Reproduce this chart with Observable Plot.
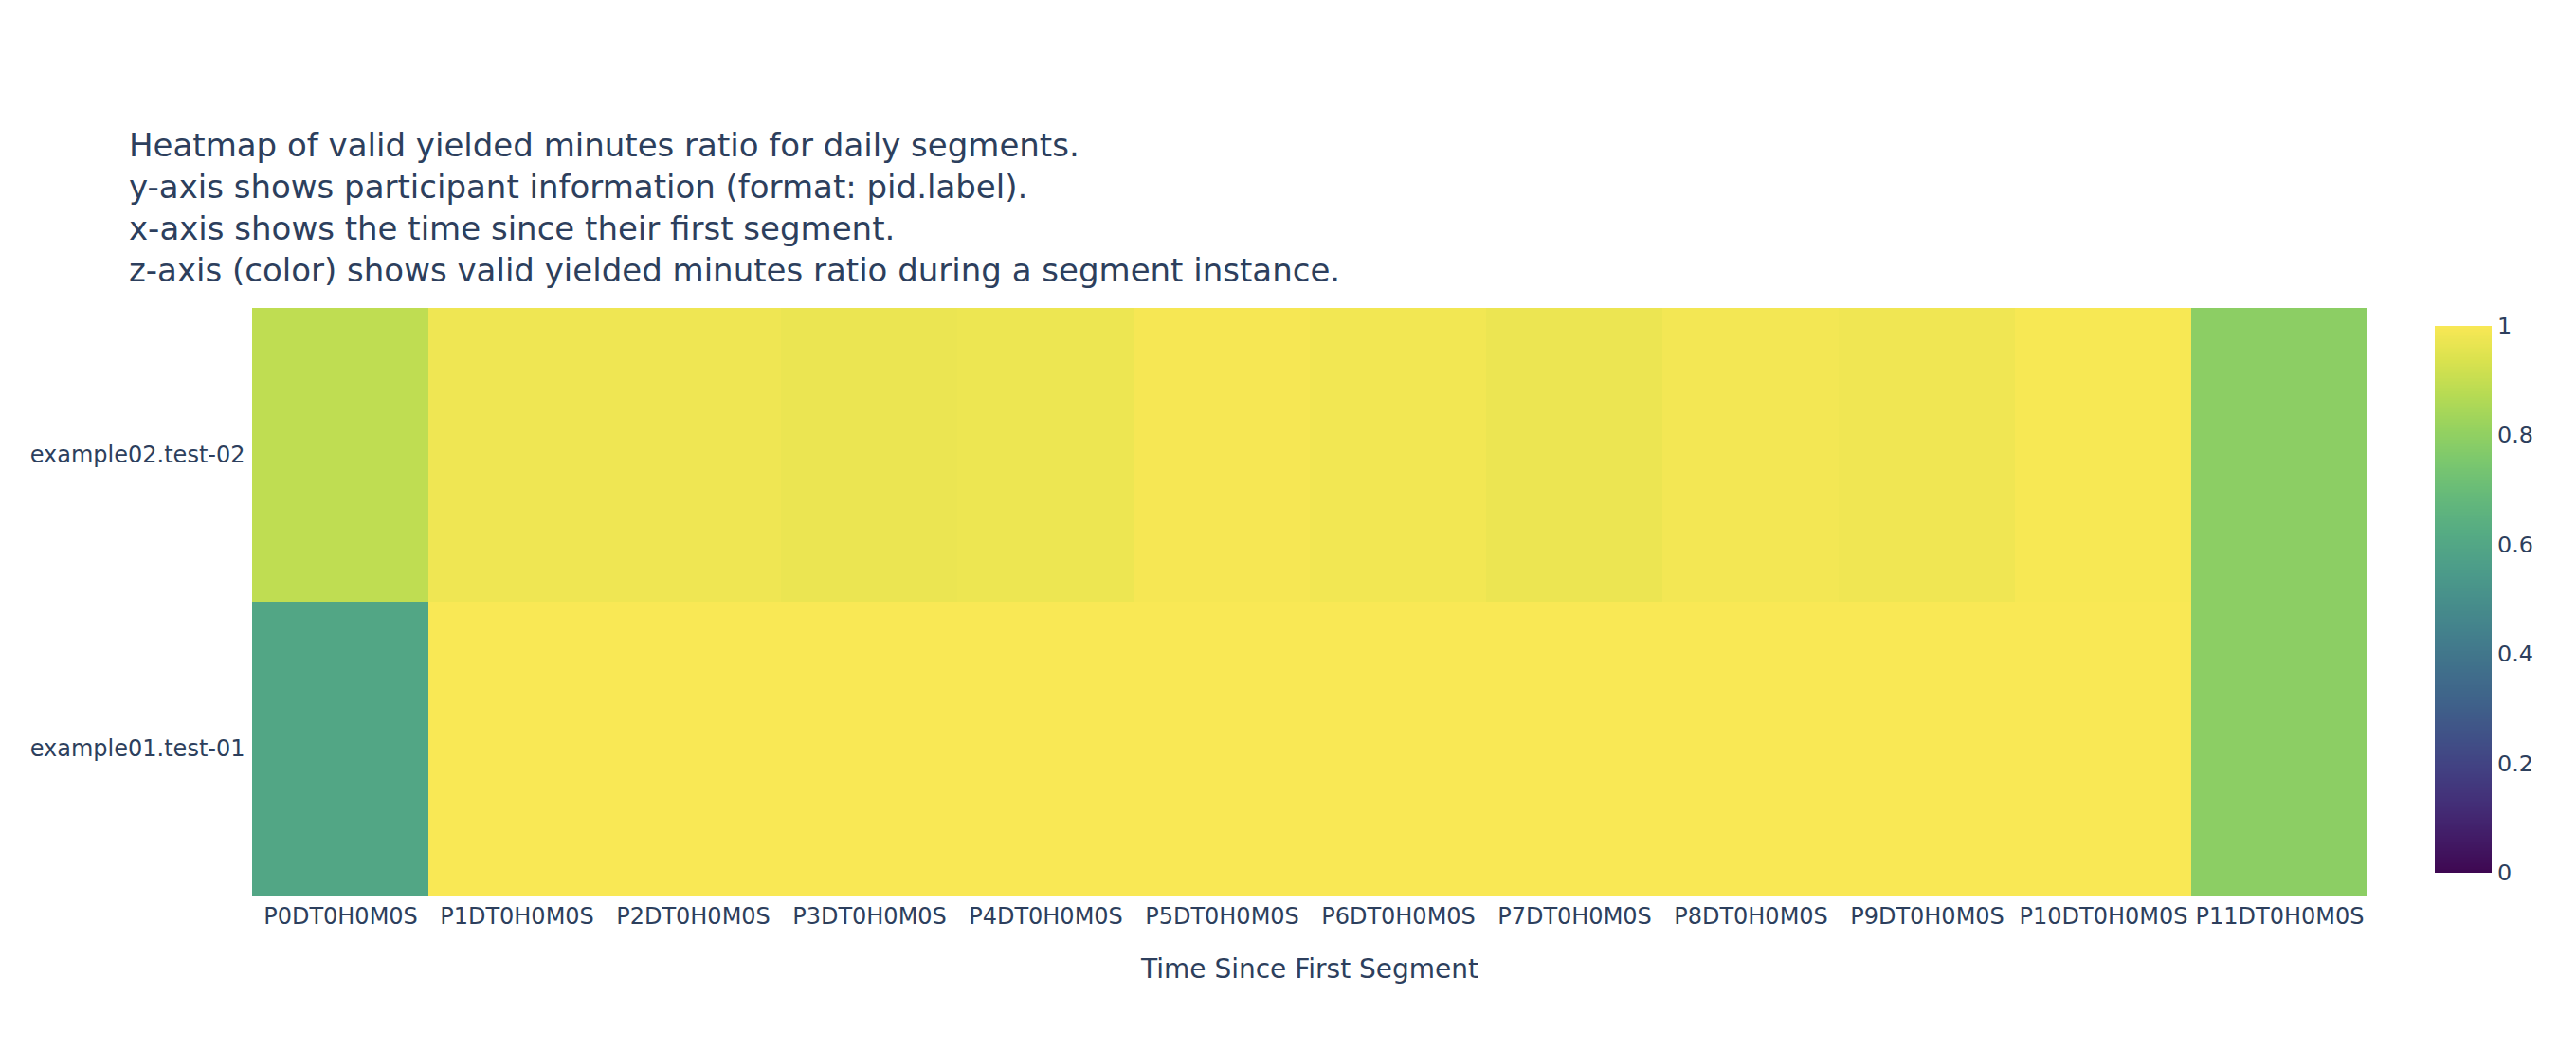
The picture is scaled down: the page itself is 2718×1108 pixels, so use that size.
<!DOCTYPE html>
<html><head><meta charset="utf-8">
<script src="https://cdn.jsdelivr.net/npm/d3@7"></script>
<script src="https://cdn.jsdelivr.net/npm/@observablehq/plot@0.6"></script>
<style>
body{margin:0;background:#fff;width:2718px;height:1108px;overflow:hidden;position:relative;font-family:"DejaVu Sans",Verdana,sans-serif;color:#2d3f5d}
#title{padding:131px 0 0 136px;font-size:34px;line-height:44px;height:176px;white-space:nowrap}
#title div{height:44px}
#cb{position:absolute;left:2569px;top:334px}
svg{display:block}
</style></head><body>
<div id="title"></div><div id="chart"></div><div id="cb"></div>
<script>
const titleLines = [
  "Heatmap of valid yielded minutes ratio for daily segments.",
  "y-axis shows participant information (format: pid.label).",
  "x-axis shows the time since their first segment.",
  "z-axis (color) shows valid yielded minutes ratio during a segment instance."
];
const participants = ["example02.test-02", "example01.test-01"];
const periods = ["P0DT0H0M0S","P1DT0H0M0S","P2DT0H0M0S","P3DT0H0M0S","P4DT0H0M0S","P5DT0H0M0S",
  "P6DT0H0M0S","P7DT0H0M0S","P8DT0H0M0S","P9DT0H0M0S","P10DT0H0M0S","P11DT0H0M0S"];
const ratioExample02 = [0.89, 0.979, 0.979, 0.972, 0.975, 0.994, 0.985, 0.973, 0.988, 0.982, 0.995, 0.79];
const ratioExample01 = [0.60, 1.0, 1.0, 1.0, 1.0, 1.0, 1.0, 1.0, 1.0, 1.0, 1.0, 0.79];
const xAxisLabel = "Time Since First Segment";
const colorbarTicks = [0, 0.2, 0.4, 0.6, 0.8, 1];
const viridisStops = ["#440154","#48186a","#472d7b","#424086","#3b528b","#33638d","#2c728e","#26828e",
  "#21918c","#1fa088","#28ae80","#3fbc73","#5ec962","#84d44b","#addc30","#d8e219","#fde725"];

// sRGB -> Display P3 numbers (the reference picture was colour-converted this way)
function toP3(hex){
  const c = d3.rgb(hex);
  const lin = v => { v /= 255; return v <= 0.04045 ? v/12.92 : Math.pow((v+0.055)/1.055, 2.4); };
  const enc = v => { v = Math.max(0, Math.min(1, v)); return 255*(v <= 0.0031308 ? 12.92*v : 1.055*Math.pow(v, 1/2.4) - 0.055); };
  const r = lin(c.r), g = lin(c.g), b = lin(c.b);
  return d3.rgb(enc(0.8225*r + 0.1774*g), enc(0.0332*r + 0.9669*g), enc(0.0171*r + 0.0724*g + 0.9108*b)).formatHex();
}
const colorInterp = d3.piecewise(d3.interpolateRgb, viridisStops.map(toP3));
const colorScale = {type: "linear", domain: [0, 1], interpolate: colorInterp};

const tEl = document.getElementById("title");
titleLines.forEach(l => { const d = document.createElement("div"); d.textContent = l; tEl.appendChild(d); });

const data = [];
participants.forEach((p, i) => {
  const vals = i === 0 ? ratioExample02 : ratioExample01;
  periods.forEach((t, j) => data.push({participant: p, period: t, ratio: vals[j]}));
});

const font = '"DejaVu Sans", Verdana, sans-serif';
const chart = Plot.plot({
  width: 2718, height: 801,
  marginTop: 17, marginBottom: 163, marginLeft: 262, marginRight: 217,
  style: {fontFamily: font, fontSize: "24px", color: "#2d3f5d", background: "#fff", overflow: "visible"},
  x: {type: "band", domain: periods, padding: 0},
  y: {type: "band", domain: participants, padding: 0},
  color: colorScale,
  marks: [
    Plot.cell(data, {x: "period", y: "participant", fill: "ratio", inset: 0, shapeRendering: "crispEdges"}),
    Plot.axisX({tickSize: 0, tickPadding: 12, label: xAxisLabel, labelAnchor: "center", labelOffset: 86, labelArrow: "none"}),
    Plot.axisY({tickSize: 0, tickPadding: 4, label: null})
  ]
});
const lab = chart.querySelector('g[aria-label="x-axis label"]');
if (lab) lab.style.fontSize = "28px";
document.getElementById("chart").appendChild(chart);

const step = 0.0025;
const cbSteps = d3.range(0, 1, step);
const cb = Plot.plot({
  width: 150, height: 601,
  marginTop: 10, marginBottom: 10, marginLeft: 0, marginRight: 90,
  style: {fontFamily: font, fontSize: "24px", color: "#2d3f5d", background: "transparent", overflow: "visible"},
  x: {domain: [0, 1], axis: null},
  y: {domain: [0, 1]},
  color: colorScale,
  marks: [
    Plot.rect(cbSteps, {x1: 0, x2: 1, y1: d => d, y2: d => Math.min(1, d + step*1.6), fill: d => d + step/2, shapeRendering: "crispEdges"}),
    Plot.axisY({anchor: "right", ticks: colorbarTicks, tickSize: 0, tickPadding: 6, tickFormat: d => String(d), label: null})
  ]
});
document.getElementById("cb").appendChild(cb);
</script>
</body></html>
